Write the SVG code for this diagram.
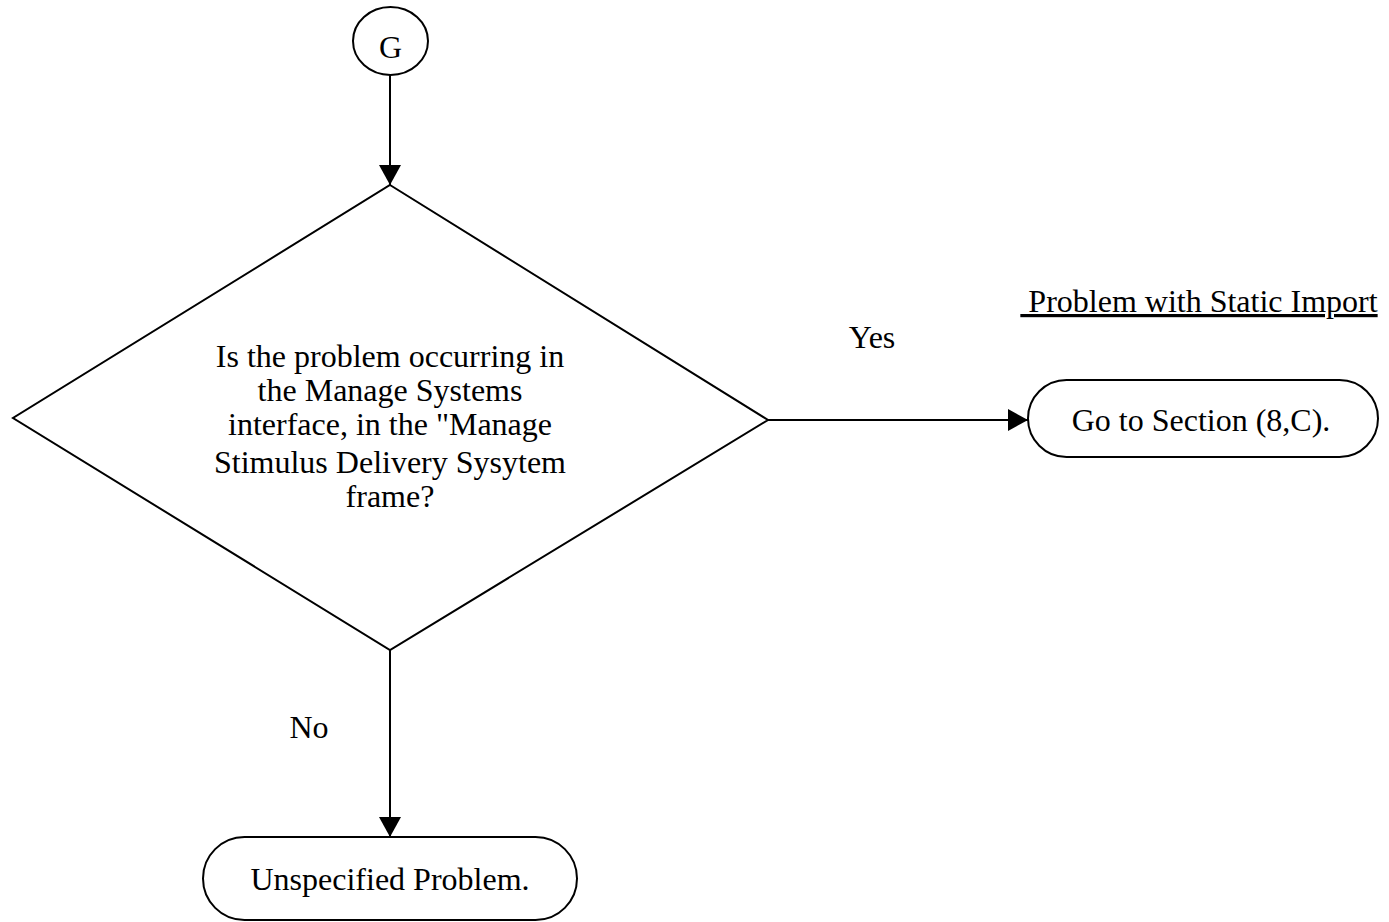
<svg xmlns="http://www.w3.org/2000/svg" width="1389" height="922" viewBox="0 0 1389 922">
  <style>
    .shape { fill: #fff; stroke: #000; stroke-width: 2; }
    .line { fill: none; stroke: #000; stroke-width: 2; }
    text { font-family: "Liberation Serif", "Times New Roman", serif; font-size: 32px; fill: #000; text-anchor: middle; }
  </style>
  <defs>
    <marker id="arrow" viewBox="0 0 20 22" refX="20" refY="11" markerWidth="20" markerHeight="22" markerUnits="userSpaceOnUse" orient="auto">
      <path d="M0,0 L20,11 L0,22 Z" fill="#000"/>
    </marker>
  </defs>

  <rect width="1389" height="922" fill="#fff"/>

  <g id="connectors">
    <line class="line" x1="390" y1="75" x2="390" y2="185" marker-end="url(#arrow)"/>
    <line class="line" x1="768" y1="420" x2="1028" y2="420" marker-end="url(#arrow)"/>
    <line class="line" x1="390" y1="650" x2="390" y2="837" marker-end="url(#arrow)"/>
    <text x="872" y="348">Yes</text>
    <text x="309" y="738">No</text>
  </g>

  <g id="node-g">
    <ellipse class="shape" cx="390.5" cy="41" rx="37.5" ry="34"/>
    <text x="390.5" y="58">G</text>
  </g>

  <g id="node-decision">
    <polygon class="shape" points="390,185 768,420 390,650 13,418"/>
    <text x="390" y="367">Is the problem occurring in</text>
    <text x="390" y="401">the Manage Systems</text>
    <text x="390" y="435">interface, in the "Manage</text>
    <text x="390" y="473">Stimulus Delivery Sysytem</text>
    <text x="390" y="507">frame?</text>
  </g>

  <g id="node-goto">
    <rect class="shape" x="1028" y="380" width="350" height="77" rx="38.5" ry="38.5"/>
    <text x="1201" y="431">Go to Section (8,C).</text>
  </g>

  <g id="label-static-import">
    <text x="1199" y="312" text-decoration="underline" xml:space="preserve"> Problem with Static Import</text>
  </g>

  <g id="node-unspecified">
    <rect class="shape" x="203" y="837" width="374" height="83" rx="41.5" ry="41.5"/>
    <text x="390" y="890">Unspecified Problem.</text>
  </g>
</svg>
